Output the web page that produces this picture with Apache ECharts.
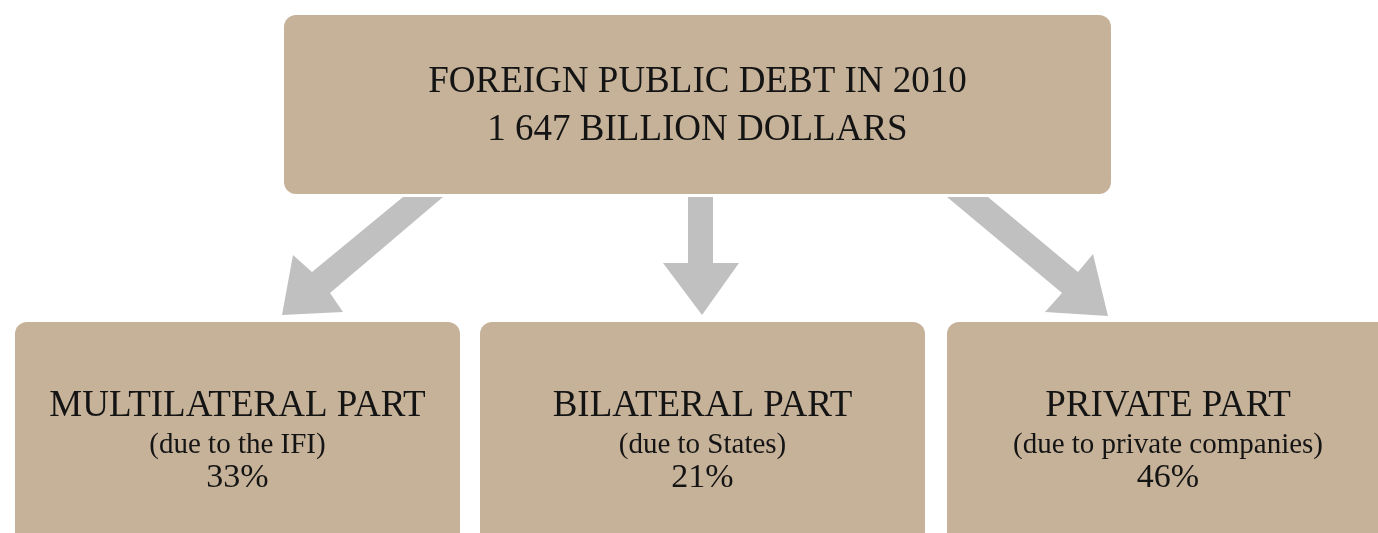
<!DOCTYPE html>
<html><head><meta charset="utf-8">
<script src="https://cdn.jsdelivr.net/npm/echarts@6/dist/echarts.min.js"></script>
<style>html,body{margin:0;padding:0;background:#fff}#c{width:1378px;height:533px}</style>
</head><body><div id="c"></div>
<script>
// ---- data ----
const totalTitle = ["FOREIGN PUBLIC DEBT IN 2010", "1 647 BILLION DOLLARS"];
const partNames = ["MULTILATERAL PART", "BILATERAL PART", "PRIVATE PART"];
const partCreditors = ["(due to the IFI)", "(due to States)", "(due to private companies)"];
const partShares = [33, 21, 46];

// ---- layout (pixel-space coordinates mapped through hidden value axes) ----
const topBox = [284, 15, 1111, 194];
const bottomBoxes = [[15, 322, 460, 560], [480, 322, 925, 560], [947, 322, 1389, 560]];
const arrowShapes = [
  [[403,197],[443,197],[330,293],[343,312],[282,315],[293,255],[312,272]],
  [[688,197],[713,197],[713,263],[739,263],[702,315],[663,263],[688,263]],
  [[947,197],[988,197],[1078,272],[1093,254],[1108,316],[1045,312],[1062,293]]
];
const BOX = '#c6b299', ARROW = '#c0c0c0', INK = '#141414';
const FONT = "'Liberation Serif','Times New Roman',serif";

const chart = echarts.init(document.getElementById('c'), null, {renderer: 'canvas'});
function rectEl(api, b) {
  const p0 = api.coord([b[0], b[1]]), p1 = api.coord([b[2], b[3]]);
  return {type: 'rect', shape: {x: p0[0], y: p0[1], width: p1[0]-p0[0], height: p1[1]-p0[1], r: 12}, style: {fill: BOX}};
}
function textEl(api, x, y, str, size) {
  const p = api.coord([x, y]);
  return {type: 'text', x: p[0], y: p[1], style: {text: str, fill: INK, font: size + 'px ' + FONT, align: 'center', verticalAlign: 'middle'}};
}
const boxData = [0, 1, 2, 3];
chart.setOption({
  animation: false,
  grid: {left: 0, right: 0, top: 0, bottom: 0},
  xAxis: {type: 'value', min: 0, max: 1378, show: false},
  yAxis: {type: 'value', min: 0, max: 533, inverse: true, show: false},
  series: [
    {
      type: 'custom', data: arrowShapes.map((a, i) => [i]), silent: true,
      renderItem: (params, api) => {
        const pts = arrowShapes[params.dataIndex].map(p => api.coord(p));
        return {type: 'polygon', shape: {points: pts}, style: {fill: ARROW}};
      }
    },
    {
      type: 'custom', data: boxData.map(i => [i]), silent: true,
      renderItem: (params, api) => {
        const i = params.dataIndex;
        if (i === 0) {
          const cx = (topBox[0] + topBox[2]) / 2;
          return {type: 'group', children: [
            rectEl(api, topBox),
            textEl(api, cx, 82, totalTitle[0], 37),
            textEl(api, cx, 130, totalTitle[1], 37)
          ]};
        }
        const b = bottomBoxes[i - 1];
        const cx = (b[0] + b[2]) / 2;
        return {type: 'group', children: [
          rectEl(api, b),
          textEl(api, cx, 406, partNames[i - 1], 37),
          textEl(api, cx, 445, partCreditors[i - 1], 29),
          textEl(api, cx, 478, partShares[i - 1] + '%', 34)
        ]};
      }
    }
  ]
});
</script></body></html>
